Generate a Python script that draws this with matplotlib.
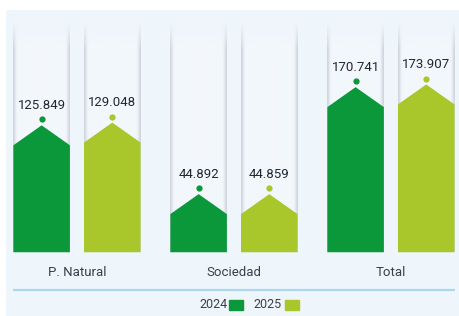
import numpy as np
import matplotlib
matplotlib.use('Agg')
import matplotlib.pyplot as plt
from matplotlib.patches import Polygon, Rectangle

plt.rcParams['font.family'] = ['Roboto', 'DejaVu Sans']

categories = ['P. Natural', 'Sociedad', 'Total']
years = ['2024', '2025']
values_2024 = [125.849, 44.892, 170.741]
values_2025 = [129.048, 44.859, 173.907]
labels_2024 = ['125.849', '44.892', '170.741']
labels_2025 = ['129.048', '44.859', '173.907']

c2024 = '#0a983a'
c2025 = '#a9c62b'
bg = '#eef5fb'
cap = 23.5      # height of the arrow tip (value units)
bw = 0.36       # bar width
off = 0.225     # half distance between the two bars of a group

fig = plt.figure(figsize=(4.6, 3.16), dpi=100)
fig.patch.set_facecolor('white')
ax = fig.add_axes([6/460, 0, 454/460, 306/316])
ax.set_facecolor(bg)
ax.set_xlim(-0.452, 2.44)
ax.set_ylim(-75, 285)
ax.axis('off')
ax.add_patch(Rectangle((0, 0), 1, 1, transform=ax.transAxes, color=bg, zorder=0))

# soft "tube" behind every bar
nx, ny = 60, 200
xx = np.linspace(-1, 1, nx)
yy = np.linspace(0, 1, ny)
edge = np.exp(-((1 - np.abs(xx)) / 0.10) ** 2)
fade = np.clip((1 - yy) / 0.12, 0, 1)
img = np.zeros((ny, nx, 4))
gray = np.array([0.78, 0.80, 0.84])
white = np.array([1.0, 1.0, 1.0])
for j in range(nx):
    img[:, j, :3] = white * (1 - edge[j]) + gray * edge[j]
    img[:, j, 3] = fade * (0.3 + 0.45 * edge[j])

tube_top = 270
for i in range(len(categories)):
    for dx in (-off, off):
        x0 = i + dx
        ax.imshow(img, extent=(x0 - bw/2, x0 + bw/2, 0, tube_top), origin='lower',
                  aspect='auto', zorder=1, interpolation='bilinear')

for i in range(len(categories)):
    for dx, v, col, lab in ((-off, values_2024[i], c2024, labels_2024[i]),
                            (off, values_2025[i], c2025, labels_2025[i])):
        x0 = i + dx
        pts = [(x0 - bw/2, 0), (x0 + bw/2, 0), (x0 + bw/2, v),
               (x0, v + cap), (x0 - bw/2, v)]
        ax.add_patch(Polygon(pts, closed=True, facecolor=col, edgecolor='none', zorder=3))
        ax.plot(x0, v + cap + 7, 'o', ms=4.5, color=col, mec='none', zorder=4)
        ax.text(x0, v + cap + 19, lab, ha='center', va='baseline', fontsize=9.5,
                color='#1f2830', zorder=5)
    ax.text(i, -23.5, categories[i], ha='center', va='center', fontsize=9.5,
            color='#37414b')

ax.plot([-0.41, 2.405], [-44.7, -44.7], color='#a9d8ee', lw=1.6, zorder=2,
        solid_capstyle='butt')

# legend
ax.text(0.958, -62, years[0], ha='right', va='center', fontsize=9, color='#37414b')
ax.add_patch(Rectangle((0.968, -67.5), 0.09, 11, color=c2024, zorder=3))
ax.text(1.305, -62, years[1], ha='right', va='center', fontsize=9, color='#37414b')
ax.add_patch(Rectangle((1.325, -67.5), 0.09, 11, color=c2025, zorder=3))

fig.savefig('out.png', dpi=100, facecolor='white')
